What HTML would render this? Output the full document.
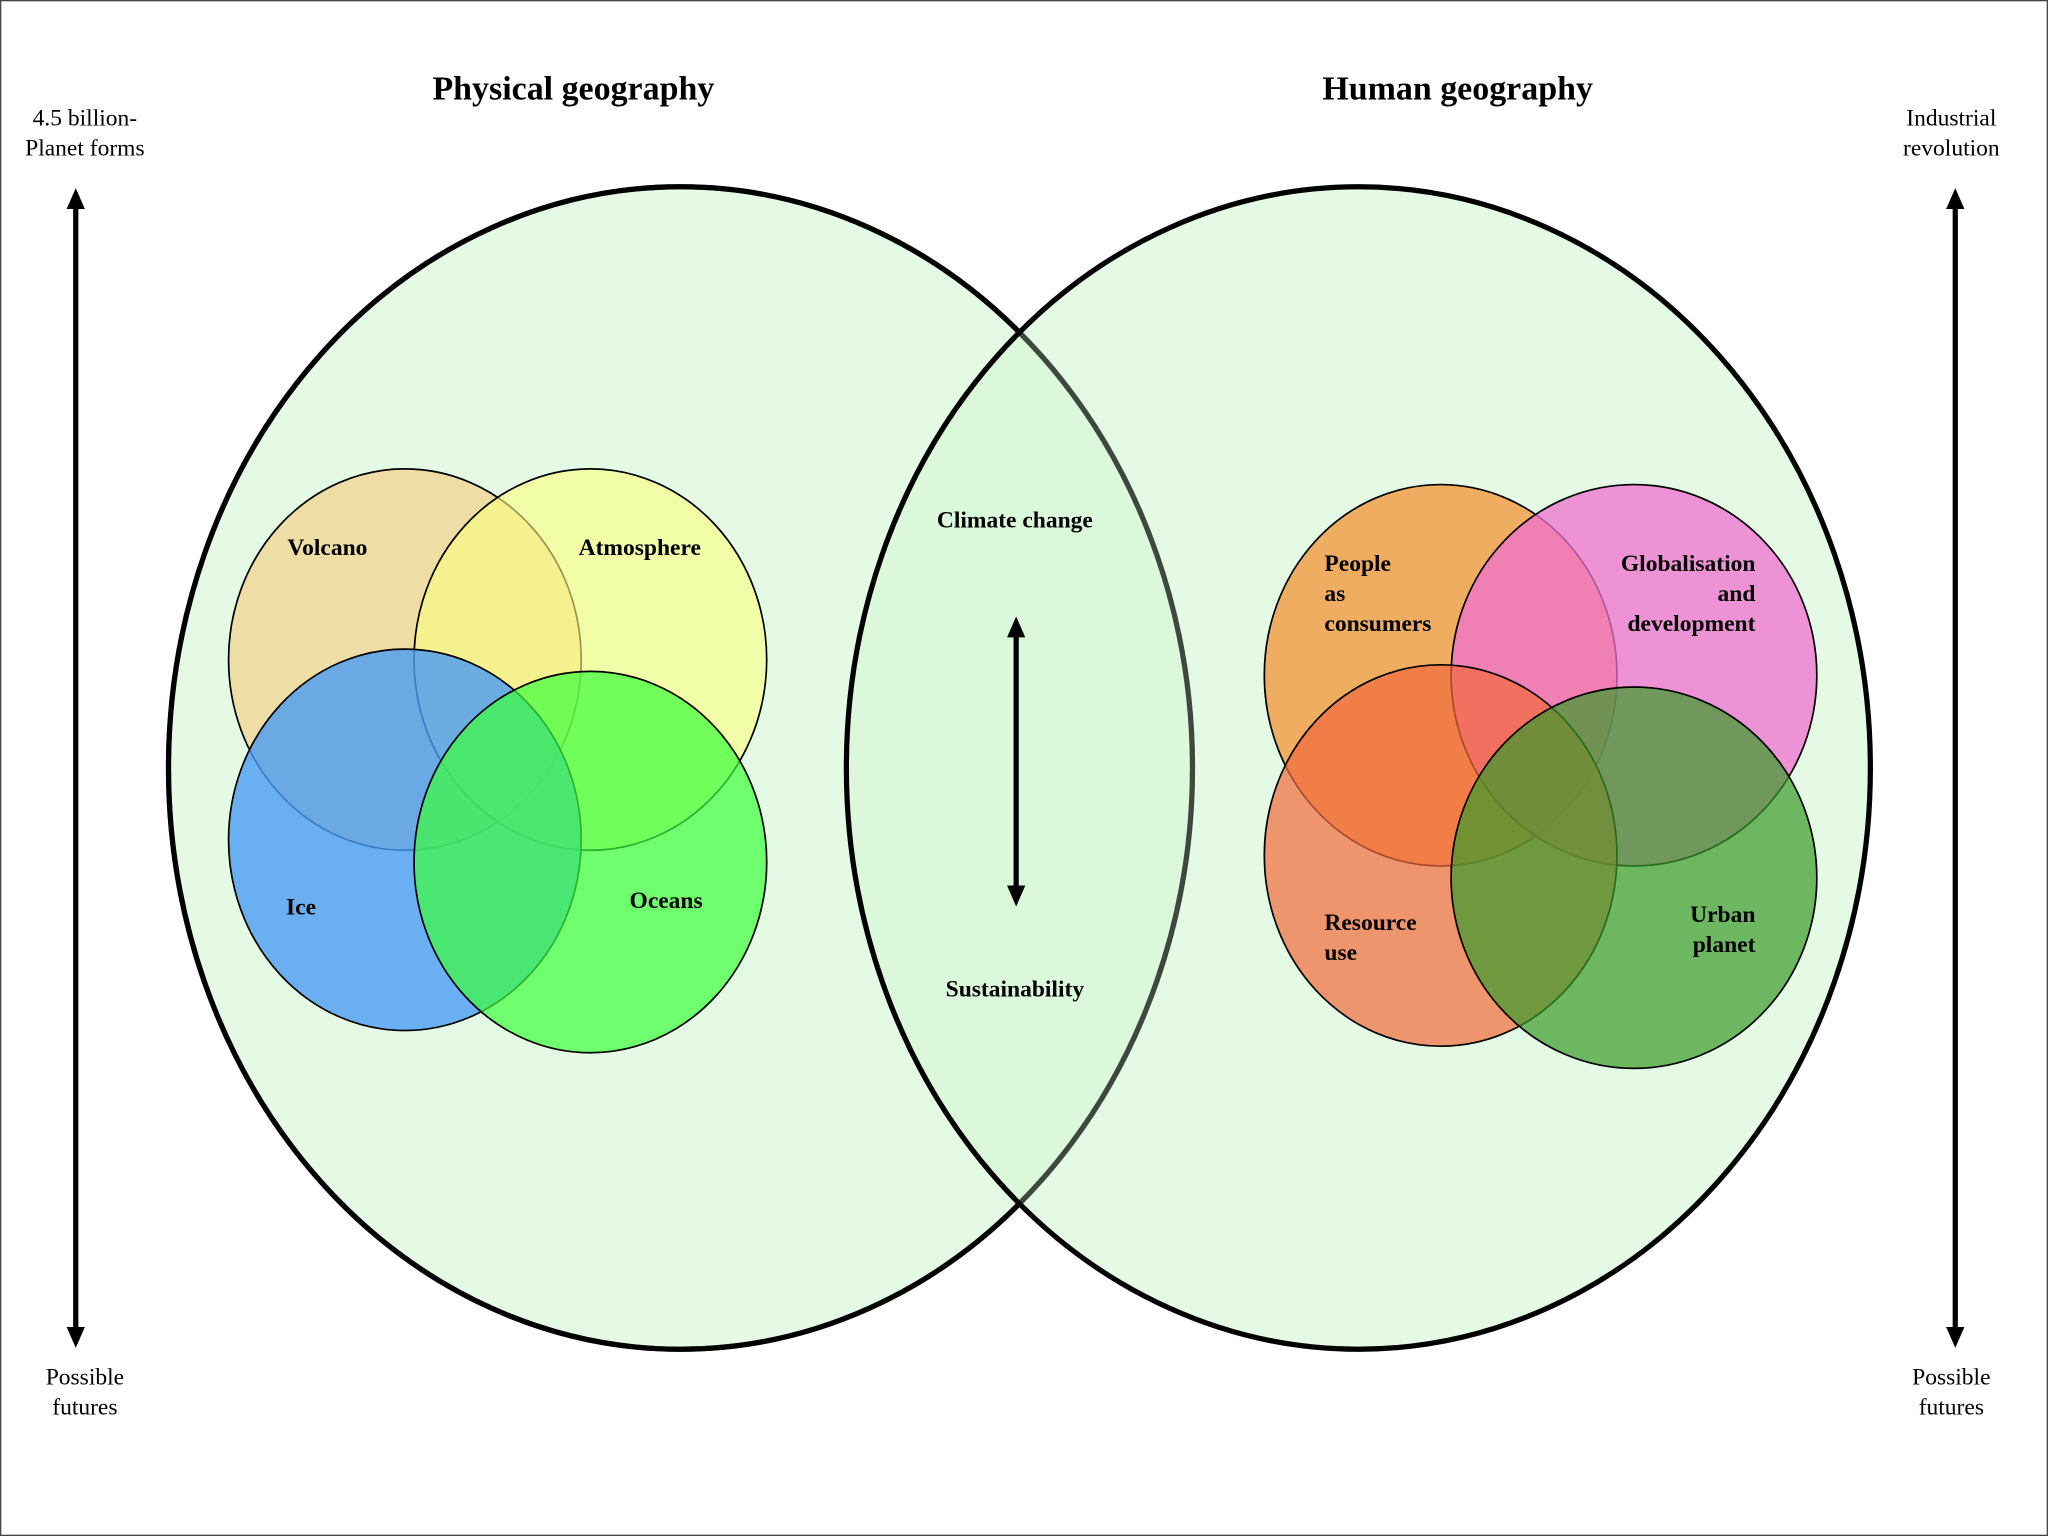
<!DOCTYPE html>
<html><head><meta charset="utf-8"><style>
html,body{margin:0;padding:0;background:#fff;}
svg{display:block;}
text{font-family:"Liberation Serif",serif;fill:#000;}
.b{font-weight:bold;font-size:18px;}
.t{font-weight:bold;font-size:26px;}
.s{font-size:18px;}
</style></head><body>
<svg width="2048" height="1536" viewBox="0 0 1568 1176" xmlns="http://www.w3.org/2000/svg">
<defs>
<marker id="ah" markerWidth="16" markerHeight="14" refX="2" refY="7" orient="auto-start-reverse" markerUnits="userSpaceOnUse" viewBox="0 0 16 14">
<path d="M0,0 L16,7 L0,14 z" fill="#000"/>
</marker>
</defs>
<rect width="1568" height="1176" fill="#fff"/>
<rect x="0.5" y="0.5" width="1567" height="1175" fill="none" stroke="#444" stroke-width="1"/>
<ellipse cx="521" cy="588" rx="392" ry="445" fill="#d6f7d6" fill-opacity="0.65" stroke="#000" stroke-width="4"/>
<ellipse cx="1040" cy="588" rx="392" ry="445" fill="#d6f7d6" fill-opacity="0.65" stroke="#000" stroke-width="4"/>
<ellipse cx="521" cy="588" rx="392" ry="445" fill="none" stroke="#000" stroke-opacity="0.55" stroke-width="4"/>
<g stroke="#000" stroke-width="1.3">
<ellipse cx="310" cy="505" rx="135" ry="146" fill="#f2d08a" fill-opacity="0.7"/>
<ellipse cx="452" cy="505" rx="135" ry="146" fill="#fbff80" fill-opacity="0.6"/>
<ellipse cx="310" cy="643" rx="135" ry="146" fill="#4a9cf5" fill-opacity="0.8"/>
<ellipse cx="452" cy="660" rx="135" ry="146" fill="#3cff3c" fill-opacity="0.7"/>
<ellipse cx="1103" cy="517" rx="135" ry="146" fill="#f09a40" fill-opacity="0.8"/>
<ellipse cx="1251" cy="517" rx="140" ry="146" fill="#f070d0" fill-opacity="0.75"/>
<ellipse cx="1103" cy="655" rx="135" ry="146" fill="#f26a3c" fill-opacity="0.7"/>
<ellipse cx="1251" cy="672" rx="140" ry="146" fill="#3a9a2a" fill-opacity="0.7"/>
</g>
<line x1="58" y1="158" x2="58" y2="1018" stroke="#000" stroke-width="4" marker-start="url(#ah)" marker-end="url(#ah)"/>
<line x1="1497" y1="158" x2="1497" y2="1018" stroke="#000" stroke-width="4" marker-start="url(#ah)" marker-end="url(#ah)"/>
<line x1="778" y1="486" x2="778" y2="680" stroke="#000" stroke-width="4" marker-start="url(#ah)" marker-end="url(#ah)"/>
<text class="t" x="439" y="76" text-anchor="middle">Physical geography</text>
<text class="t" x="1116" y="76" text-anchor="middle">Human geography</text>
<text class="s" x="65" y="96" text-anchor="middle">4.5 billion-</text>
<text class="s" x="65" y="119" text-anchor="middle">Planet forms</text>
<text class="s" x="1494" y="96" text-anchor="middle">Industrial</text>
<text class="s" x="1494" y="119" text-anchor="middle">revolution</text>
<text class="s" x="65" y="1060" text-anchor="middle">Possible</text>
<text class="s" x="65" y="1083" text-anchor="middle">futures</text>
<text class="s" x="1494" y="1060" text-anchor="middle">Possible</text>
<text class="s" x="1494" y="1083" text-anchor="middle">futures</text>
<text class="b" x="220" y="425">Volcano</text>
<text class="b" x="443" y="425">Atmosphere</text>
<text class="b" x="219" y="700">Ice</text>
<text class="b" x="482" y="695">Oceans</text>
<text class="b" x="777" y="404" text-anchor="middle">Climate change</text>
<text class="b" x="777" y="763" text-anchor="middle">Sustainability</text>
<text class="b" x="1014" y="437">People</text>
<text class="b" x="1014" y="460">as</text>
<text class="b" x="1014" y="483">consumers</text>
<text class="b" x="1344" y="437" text-anchor="end">Globalisation</text>
<text class="b" x="1344" y="460" text-anchor="end">and</text>
<text class="b" x="1344" y="483" text-anchor="end">development</text>
<text class="b" x="1014" y="712">Resource</text>
<text class="b" x="1014" y="735">use</text>
<text class="b" x="1344" y="706" text-anchor="end">Urban</text>
<text class="b" x="1344" y="729" text-anchor="end">planet</text>
</svg>
</body></html>
